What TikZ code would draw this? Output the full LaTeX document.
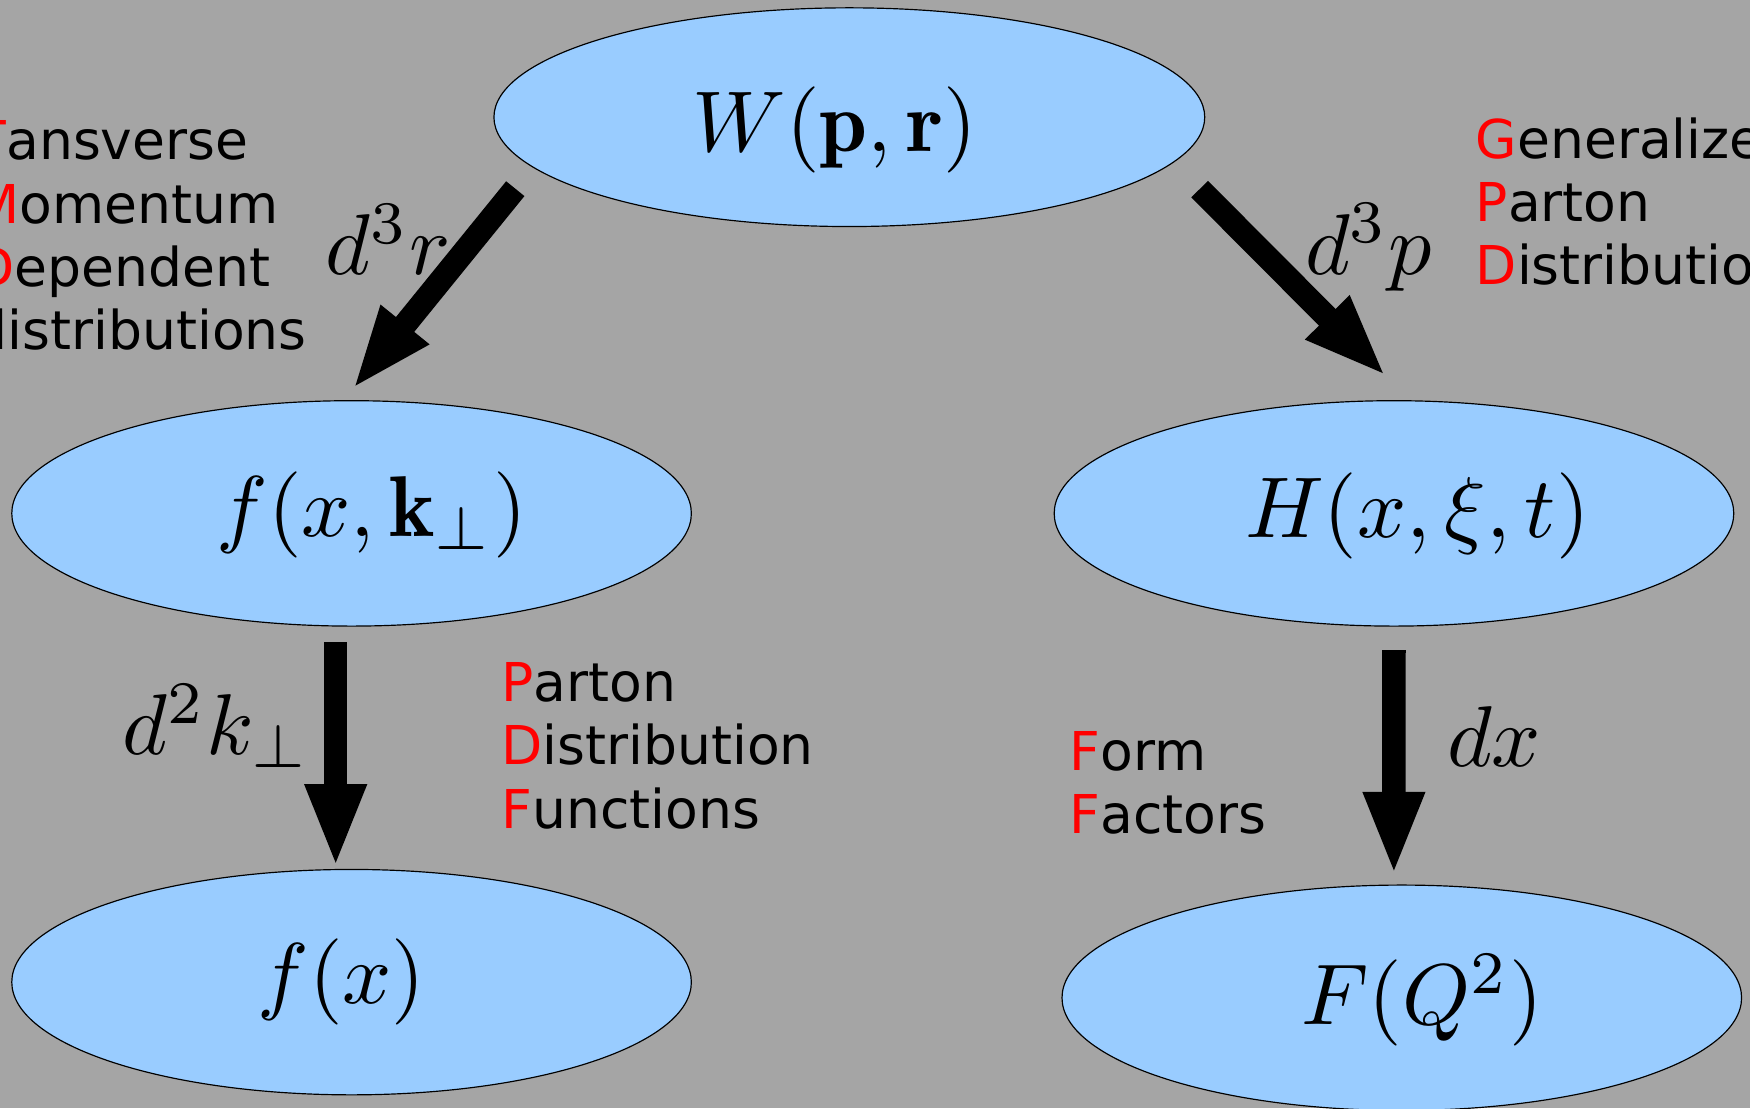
\documentclass[tikz,border=0pt]{standalone}
\usepackage{amsmath}
\usepackage{amssymb}
\usepackage{fontspec}
\newfontfamily\dejavu{DejaVu Sans}
\usetikzlibrary{
    shapes.geometric,
    positioning,
    arrows.meta
}
\definecolor{fondo}{HTML}{A5A5A5}
\definecolor{burbuja}{HTML}{99CCFF}
\tikzset{
    >={Triangle[length=42.7pt,width=28.5pt]},
    burbuja/.style={
        ellipse,
        draw=black,
        line width=0.6pt,
        fill=burbuja,
        minimum width=12.18cm,
        minimum height=4.04cm,
        inner sep=0pt
    },
    formula/.style={
        inner sep=0pt
    },
    flecha/.style={
        ->,
        line width=12pt
    },
    sigla/.style={
        font=\dejavu\fontsize{27.3}{32.2}\selectfont,
        align=left,
        anchor=base west,
        inner sep=0pt
    }
}
\newcommand{\roja}[1]{\textcolor{red}{#1}}
\newcommand{\grande}[1]{\scalebox{4.4}{$#1$}}

\begin{document}
\begin{tikzpicture}[
    x=0.02cm,
    y=-0.02cm
]

    \fill[fondo] (0,0) rectangle (1568,993);
    \useasboundingbox (0,0) rectangle (1568,993);

    % Distribuciones
    \node[burbuja, minimum width=12.74cm, minimum height=3.92cm,
          label={[formula, shift={(-13,11)}]center:\grande{W(\mathbf{p},\mathbf{r})}}]
                            (wigner) at (761,105)  {};

    \node[burbuja, label={[formula, shift={(18,1)}]center:\grande{f(x,\mathbf{k}_\perp)}}]
                            (tmd)    at (315,460)  {};
    \node[burbuja, label={[formula, shift={(21,2)}]center:\grande{H(x,\xi,t)}}]
                            (gpd)    at (1249,460) {};

    \node[burbuja, label={[formula, shift={(-9,0)}]center:\grande{f(x)}}]
                            (pdf)    at (315,880)  {};
    \node[burbuja, label={[formula, shift={(18,2)}]center:\grande{F(Q^2)}}]
                            (ff)     at (1256,894) {};

    % Integraciones
    \path
        (wigner.189)
            edge[flecha, shorten <=14pt, shorten >=7pt]
                node[formula, left=6pt, pos=0.31] (lr) {\grande{d^3r}} (tmd.94)
        (wigner.352)
            edge[flecha, shorten <=19pt, shorten >=17pt]
                node[formula, right=18.2pt, pos=0.356] (lp) {\grande{d^3p}} (gpd.82)
        (tmd.262)
            edge[flecha, shorten <=8pt, shorten >=0.6pt]
                node[formula, left=7.4pt, pos=0.41] (lk) {\grande{d^2k_\perp}} (pdf.98)
        (gpd.south)
            edge[flecha, shorten <=12pt, shorten >=4.6pt]
                node[formula, right=21.1pt, pos=0.427] (lx) {\grande{dx}} (ff.94);

    % Siglas (ancla en la ultima linea)
    \node[sigla] (ttmd) at (-24,313)
        {\roja{T}ansverse\\\roja{M}omentum\\\roja{D}ependent\\distributions};
    \node[sigla] (tgpd) at (1322,255)
        {\roja{G}eneralized\\\roja{P}arton\\\roja{D}istributions};
    \node[sigla] (tpdf) at (449,742)
        {\roja{P}arton\\\roja{D}istribution\\\roja{F}unctions};
    \node[sigla] (tff)  at (958,747)
        {\roja{F}orm\\\roja{F}actors};

\end{tikzpicture}
\end{document}
